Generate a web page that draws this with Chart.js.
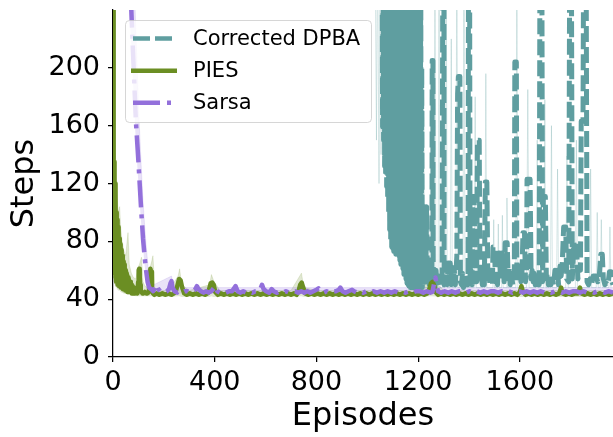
<!DOCTYPE html>
<html>
<head>
<meta charset="utf-8">
<script src="https://cdn.jsdelivr.net/npm/chart.js@4/dist/chart.umd.min.js"></script>
<style>
  html, body { margin: 0; padding: 0; background: #fff; }
  #wrap { width: 613px; height: 437px; }
</style>
</head>
<body>
<div id="wrap"><canvas id="c" width="613" height="437"></canvas></div>
<script>
// ---------- data ----------
const seriesNames = ['Corrected DPBA', 'PIES', 'Sarsa'];
const xTickValues = [0, 400, 800, 1200, 1600];
const yTickValues = [0, 40, 80, 120, 160, 200];

// Corrected DPBA mean curve: [episode, steps]
const dpbaCurve = [
  [0,3000],[1050,3000],[1056,300],
  [1058,300],[1060,159],[1062,300],[1064,150],[1066,300],[1068,132],[1070,300],[1072,126],
  [1074,300],[1076,118],[1078,300],[1080,110],[1082,300],[1084,100],[1086,300],[1088,88],
  [1090,300],[1092,80],[1094,300],[1096,76],[1098,300],[1100,75],[1102,300],[1104,73],
  [1106,300],[1108,74],[1110,300],[1112,71],[1114,300],[1116,73],[1118,300],[1120,72],
  [1122,300],[1124,70],[1126,300],[1128,67],[1130,300],[1132,64],[1134,300],[1136,68],
  [1138,300],[1140,61],[1142,300],[1144,57],[1146,300],[1148,55],[1150,300],[1152,54],
  [1154,300],[1156,51],[1158,300],[1160,50],[1162,300],[1164,49],[1166,300],[1168,48],
  [1170,300],[1172,49],[1174,300],[1176,48],[1178,300],[1180,48],[1182,300],[1184,49],
  [1186,300],[1188,48],[1190,300],[1192,48],[1194,300],[1196,49],[1198,300],[1200,48],
  [1202,300],[1204,50],[1206,300],[1208,48],[1210,280],[1212,48],[1214,200],[1216,48],
  [1219,66],[1222,50],[1225,104],[1227,104],[1230,52],[1233,104],[1236,56],[1240,62],
  [1243,50],[1247,58],[1250,49],[1254,52],[1255,205],[1258,205],[1259,52],
  [1262,55],[1266,48],[1270,60],[1274,50],[1280,56],[1286,49],[1294,50],
  [1297,300],[1301,300],[1302,50],[1306,56],[1310,65],[1314,50],[1318,65],[1322,58],
  [1326,65],[1330,50],[1334,62],[1338,52],[1342,60],[1346,50],[1352,70],[1355,182],[1358,194],
  [1364,194],[1366,52],[1370,50],[1374,58],[1378,48],[1384,56],[1390,50],[1396,50],
  [1398,300],[1402,300],[1404,52],[1408,60],[1412,50],[1414,111],[1420,111],[1424,52],
  [1428,58],[1430,52],[1433,150],[1440,150],[1443,52],[1448,56],[1452,50],[1456,62],
  [1460,50],[1464,121],[1470,121],[1474,54],[1478,60],[1482,50],[1488,58],[1492,50],
  [1494,76],[1500,76],[1504,52],[1508,56],[1512,50],[1516,72],[1520,72],[1524,54],
  [1530,72],[1534,70],[1538,52],[1542,79],[1550,79],[1554,54],[1558,62],[1562,50],
  [1566,58],[1572,50],[1578,52],[1580,204],[1586,204],[1588,52],[1592,65],[1596,58],
  [1600,65],[1604,52],[1608,58],[1612,86],[1618,86],[1622,52],[1626,60],[1628,123],
  [1640,123],[1644,54],[1648,60],[1652,52],[1656,58],[1660,50],[1666,56],[1670,50],
  [1676,50],[1679,300],[1686,300],[1689,52],[1692,111],[1700,111],[1704,54],[1708,58],
  [1712,50],[1718,56],[1722,50],[1728,54],[1732,50],[1738,60],[1744,56],[1748,60],
  [1752,50],[1758,63],[1762,56],[1766,63],[1772,90],[1780,90],[1784,54],[1792,52],
  [1796,300],[1802,300],[1806,54],[1812,79],[1818,72],[1822,79],[1828,54],[1834,62],
  [1838,60],[1841,163],[1848,163],[1851,300],[1860,300],[1864,52],[1870,50],[1876,54],
  [1882,50],[1888,56],[1894,56],[1900,56],[1906,52],[1912,56],[1918,71],[1924,71],
  [1928,54],[1934,50],[1940,51],[1946,50],[1952,59],[1958,59],[1962,52],[1966,50]
];

// Corrected DPBA spread (thin light spikes): [episode, steps]
const dpbaSpread = [
  [1030,300],[1036,150],[1040,300],[1046,120],[1050,300],[1054,140],[1058,300],
  [1216,48],[1222,170],[1226,48],[1246,48],[1250,160],[1254,48],[1262,48],[1266,300],
  [1270,48],[1278,48],[1282,300],[1286,48],[1306,48],[1310,300],[1314,48],[1326,48],
  [1330,220],[1334,48],[1348,48],[1352,300],[1356,48],[1376,48],[1380,300],[1384,48],
  [1420,48],[1424,180],[1428,48],[1462,48],[1466,196],[1470,48],[1494,48],[1497,95],
  [1500,48],[1512,48],[1515,92],[1518,48],[1528,48],[1531,98],[1534,48],[1546,48],
  [1549,110],[1552,48],[1584,48],[1588,300],[1592,48],[1626,48],[1631,185],[1636,48],
  [1664,48],[1668,150],[1672,48],[1694,48],[1698,178],[1702,48],[1720,48],[1724,160],
  [1728,48],[1744,48],[1748,130],[1752,48],[1780,48],[1785,139],[1790,48],[1818,48],
  [1822,150],[1826,48],[1874,48],[1878,130],[1882,48],[1900,48],[1904,100],[1908,48],
  [1916,48],[1920,95],[1924,48],[1950,48],[1954,90],[1958,48]
];

// PIES mean curve: [episode, steps]
const piesCurve = [
  [0,300],[2,150],[3,62],[5,135],[6,58],[8,120],[9,55],[11,110],[12,52],[14,100],[15,52],
  [17,95],[18,50],[20,90],[21,50],[23,86],[24,49],[26,82],[27,49],[29,78],[30,48],[32,74],
  [33,48],[35,72],[36,48],[38,70],[39,47],[41,66],[42,47],[44,64],[45,47],[47,62],[48,46],
  [50,60],[51,46],[53,58],[54,46],[56,56],[57,45],[59,55],[60,45],[62,54],[63,45],[65,52],
  [66,45],[68,52],[70,45],[72,50],[74,44],[76,49],[78,44],[80,48],[82,44],[85,47],[88,44],
  [92,46],[96,44],[99,52],[101,60],[103,61],[105,56],[107,50],[109,46],[112,45],[116,44],
  [120,44],[125,45],[130,44],[136,44],[141,45],[144,55],[147,61],[150,59],[153,47],[157,44],
  [162,43],[172,44],[182,43],[194,44],[206,43],[218,44],[230,43],[240,44],[248,46],[254,50],
  [260,54],[266,53],[272,48],[280,44],[290,43],[302,44],[314,43],[326,44],[338,43],[350,44],
  [362,43],[372,44],[378,47],[384,51],[390,51.5],[396,50],[402,45],[412,43],[424,44],[436,43],
  [448,44],[460,43],[472,44],[484,43],[496,44],[508,43],[520,44],[532,43],[544,44],[556,43],
  [568,44],[580,43],[592,44],[604,43],[616,44],[628,43],[640,44],[652,43],[664,44],[676,43],
  [688,44],[700,43],[712,44],[722,43],[730,46],[736,50],[742,51.5],[748,48],[756,44],[768,43],
  [780,44],[792,43],[804,44],[816,43],[828,44],[840,43],[852,44],[864,43],[876,44],[888,43],
  [900,44],[912,43],[924,44],[936,43],[948,44],[960,43],[972,44],[984,43],[996,44],[1008,43],
  [1020,44],[1032,43],[1044,44],[1056,43],[1068,44],[1080,43],[1092,44],[1104,43],[1116,44],
  [1128,43],[1140,44],[1152,43],[1164,44],[1176,43],[1188,44],[1200,43],[1212,44],[1224,43],
  [1236,44],[1244,47],[1250,51],[1256,52],[1262,50],[1268,45],[1278,43],[1290,44],[1302,43],
  [1314,44],[1326,43],[1338,44],[1350,43],[1362,44],[1374,43],[1386,44],[1398,43],[1410,44],
  [1422,43],[1434,44],[1446,43],[1458,44],[1470,43],[1482,44],[1494,43],[1506,44],[1518,43],
  [1530,44],[1542,43],[1554,44],[1566,43],[1578,44],[1590,43],[1600,45],[1606,49],[1612,45],
  [1622,43],[1634,44],[1646,43],[1658,44],[1670,43],[1682,44],[1694,43],[1706,44],[1718,43],
  [1730,44],[1742,43],[1754,44],[1762,48],[1768,44],[1780,43],[1792,44],[1804,43],[1816,44],
  [1828,44],[1836,48],[1842,44],[1854,43],[1866,44],[1878,43],[1890,44],[1902,43],[1914,44],
  [1926,43],[1938,44],[1950,43],[1966,44]
];

// PIES spread: episodes, lower, upper
const piesBandEpisodes = [0,4,8,12,16,20,26,30,36,42,50,59,64,72,80,90,98,104,112,118,126,136,146,152,157,164,180,220,256,262,270,300,380,387,395,420,700,741,750,800,1200,1252,1300,1600,1966];
const piesBandLow  = [55,52,49,48,47,46,46,45,44.5,44,43.5,43,43,42.5,42.5,42,42,42,42,42,42,42,42,42,42,41.5,41.5,41.5,42,42,41.5,41.5,41.5,42,41.5,41.5,41.5,42,41.5,41.5,41.5,42,41.5,41.5,41.5];
const piesBandHigh = [300,175,150,125,112,100,104,90,80,74,70,86,64,58,55,54,62,64,69,52,49,48,62,66,70,48,46,46,56,61,50,46,50,57,53,46,46,58,48,46,46,55,46,46,46];

// Sarsa mean curve: [episode, steps]
const sarsaCurve = [
  [0,900],[30,600],[55,330],[72,240],[80,205],[90,163],[100,135],[110,104],[118,82],[124,70],
  [130,60],[136,52],[142,48],[150,47],[158,45.5],[166,48],[172,50],[178,47],[186,45.5],[194,45.5],
  [202,44.5],[212,45.5],[220,47],[226,51],[230,52.5],[234,48],[242,45.5],[252,44.5],[262,45.5],
  [272,44.5],[282,45.5],[292,45.5],[302,44.5],[312,45.5],[322,46.5],[330,49],[336,47],[346,45.5],
  [356,44.5],[366,45.5],[376,44.5],[386,45.5],[396,47.5],[402,49],[410,45.5],[420,44.5],[432,45.5],
  [444,44.5],[456,45.5],[468,45.5],[476,47.5],[482,49],[490,45.5],[500,44.5],[512,45.5],[524,44.5],
  [536,45.5],[548,44.5],[560,45.5],[572,45.5],[580,47.5],[586,50],[592,47],[602,45.5],[614,44.5],
  [624,47],[632,45.5],[644,44.5],[656,45.5],[668,44.5],[680,45.5],[692,44.5],[704,45.5],[716,45.5],
  [728,44.5],[740,45.5],[752,44.5],[764,45.5],[776,44.5],[788,45.5],[800,46.5],[808,47.5],[816,45.5],
  [828,44.5],[840,45.5],[852,44.5],[864,45.5],[876,45.5],[888,46.5],[894,48],[902,45.5],[914,44.5],
  [926,45.5],[940,46.5],[948,45.5],[960,44.5],[972,45.5],[984,44.5],[996,45.5],[1010,44.5],
  [1024,45.5],[1038,44.5],[1052,45.5],[1066,44.5],[1080,45.5],[1094,44.5],[1108,45.5],[1122,44.5],
  [1136,45.5],[1150,44.5],[1164,45.5],[1178,44.5],[1192,45.5],[1206,45.5],[1220,44.5],[1234,45.5],
  [1248,44.5],[1256,45],[1264,52],[1268,55],[1272,50],[1278,45.5],[1290,44.5],[1304,45.5],[1318,44.5],
  [1332,45.5],[1346,44.5],[1360,45.5],[1374,45.5],[1388,44.5],[1402,45.5],[1416,44.5],[1430,45.5],
  [1444,44.5],[1458,45.5],[1472,44.5],[1486,45.5],[1500,45.5],[1514,44.5],[1528,45.5],[1542,44.5],
  [1556,45.5],[1570,44.5],[1584,45.5],[1598,45.5],[1612,44.5],[1626,45.5],[1640,44.5],[1654,45.5],
  [1668,44.5],[1682,45.5],[1696,44.5],[1710,45.5],[1724,44.5],[1738,45.5],[1752,45.5],[1766,44.5],
  [1780,45.5],[1794,44.5],[1808,45.5],[1822,45.5],[1836,44.5],[1850,45.5],[1864,44.5],[1878,45.5],
  [1892,44.5],[1906,45.5],[1920,45.5],[1934,44.5],[1948,45.5],[1966,44.5]
];

// Sarsa spread: episodes, lower, upper
const sarsaBandEpisodes = [0,60,72,80,90,100,110,118,124,130,136,142,150,160,230,240,1966];
const sarsaBandLow  = [600,250,215,185,148,120,94,76,64,55,49,46,45,44,44,44,44];
const sarsaBandHigh = [1500,600,320,280,225,175,135,108,92,78,66,56,52,50,56,48,48];

// ---------- styling ----------
const TEAL = '#5F9EA0', OLIVE = '#6B8E23', PURPLE = '#9370DB';
const FONT = "'DejaVu Sans', 'Liberation Sans', sans-serif";

const toXY = arr => arr.map(p => ({ x: p[0], y: p[1] }));
const bandXY = (eps, vals) => eps.map((e, i) => ({ x: e, y: vals[i] }));

const lineBase = { pointRadius: 0, tension: 0, clip: 0, borderJoinStyle: 'round', fill: false };

const datasets = [
  { ...lineBase, label: 'pies-low', data: bandXY(piesBandEpisodes, piesBandLow), borderWidth: 0, borderColor: 'rgba(0,0,0,0)', order: 6 },
  { ...lineBase, label: 'pies-high', data: bandXY(piesBandEpisodes, piesBandHigh), borderWidth: 0.8, borderColor: 'rgba(107,142,35,0.2)', backgroundColor: 'rgba(107,142,35,0.2)', fill: '-1', order: 6 },
  { ...lineBase, label: 'sarsa-low', data: bandXY(sarsaBandEpisodes, sarsaBandLow), borderWidth: 0, borderColor: 'rgba(0,0,0,0)', order: 5 },
  { ...lineBase, label: 'sarsa-high', data: bandXY(sarsaBandEpisodes, sarsaBandHigh), borderWidth: 0.8, borderColor: 'rgba(147,112,219,0.2)', backgroundColor: 'rgba(147,112,219,0.2)', fill: '-1', order: 5 },
  { ...lineBase, label: 'dpba-spread', data: toXY(dpbaSpread), borderWidth: 1, borderColor: 'rgba(95,158,160,0.25)', order: 4 },
  { ...lineBase, label: seriesNames[0], data: toXY(dpbaCurve), borderWidth: 5, borderColor: TEAL, borderDash: [16, 5], borderCapStyle: 'butt', order: 3 },
  { ...lineBase, label: seriesNames[1], data: toXY(piesCurve), borderWidth: 4.5, borderColor: OLIVE, order: 2 },
  { ...lineBase, label: seriesNames[2], data: toXY(sarsaCurve), borderWidth: 4.5, borderColor: PURPLE, borderDash: [27, 7, 4, 7], borderCapStyle: 'butt', order: 1 }
];

const legendItems = [
  { text: seriesNames[0], color: TEAL, dash: [17, 5] },
  { text: seriesNames[1], color: OLIVE, dash: [] },
  { text: seriesNames[2], color: PURPLE, dash: [27, 7, 4, 7] }
];

const legendPlugin = {
  id: 'mplLegend',
  afterDraw(chart) {
    const ctx = chart.ctx;
    ctx.save();
    const x = 125.5, y = 20.5, w = 246, h = 102, r = 4;
    ctx.beginPath();
    ctx.moveTo(x + r, y);
    ctx.arcTo(x + w, y, x + w, y + h, r);
    ctx.arcTo(x + w, y + h, x, y + h, r);
    ctx.arcTo(x, y + h, x, y, r);
    ctx.arcTo(x, y, x + w, y, r);
    ctx.closePath();
    ctx.fillStyle = 'rgba(255,255,255,0.8)';
    ctx.fill();
    ctx.strokeStyle = 'rgba(204,204,204,0.8)';
    ctx.lineWidth = 1;
    ctx.stroke();
    const rows = [38.5, 70.8, 102.8];
    legendItems.forEach((it, i) => {
      ctx.beginPath();
      ctx.setLineDash(it.dash);
      ctx.lineCap = 'butt';
      ctx.strokeStyle = it.color;
      ctx.lineWidth = 4.5;
      ctx.moveTo(it.dash.length ? 133 : 131, rows[i]);
      ctx.lineTo(it.dash.length ? 172 : 177, rows[i]);
      ctx.stroke();
      ctx.setLineDash([]);
      ctx.fillStyle = '#000';
      ctx.font = '21px ' + FONT;
      ctx.textAlign = 'left';
      ctx.textBaseline = 'middle';
      ctx.fillText(it.text, 193, rows[i] + 1);
    });
    ctx.restore();
  }
};

new Chart(document.getElementById('c'), {
  type: 'line',
  data: { datasets },
  options: {
    responsive: false,
    animation: false,
    parsing: true,
    layout: { padding: { top: 10, right: 0, bottom: 0, left: 0 } },
    plugins: { legend: { display: false }, tooltip: { enabled: false } },
    scales: {
      x: {
        type: 'linear', min: 0, max: 1966,
        afterBuildTicks(s) { s.ticks = xTickValues.map(v => ({ value: v })); },
        afterFit(s) { s.height = 80; s.paddingLeft = 0; s.paddingRight = 0; },
        ticks: { font: { family: FONT, size: 27 }, color: '#000', padding: 5, maxRotation: 0, autoSkip: false, callback: v => String(v) },
        grid: { drawOnChartArea: false, color: '#000', tickLength: 5, lineWidth: 1.25 },
        border: { display: true, color: '#000', width: 1.25 },
        title: { display: true, text: 'Episodes', font: { family: FONT, size: 32 }, color: '#000', padding: { top: 0, bottom: 1 } }
      },
      y: {
        type: 'linear', min: 0, max: 240,
        afterBuildTicks(s) { s.ticks = yTickValues.map(v => ({ value: v })); },
        afterFit(s) { s.width = 113; s.paddingTop = 0; s.paddingBottom = 0; },
        ticks: { font: { family: FONT, size: 27 }, color: '#000', padding: 8, autoSkip: false, callback: v => String(v) },
        grid: { drawOnChartArea: false, color: '#000', tickLength: 5, lineWidth: 1.25 },
        border: { display: true, color: '#000', width: 1.25 },
        title: { display: true, text: 'Steps', font: { family: FONT, size: 32 }, color: '#000', padding: { top: 5, bottom: 0 } }
      }
    }
  },
  plugins: [legendPlugin]
});
</script>
</body>
</html>
